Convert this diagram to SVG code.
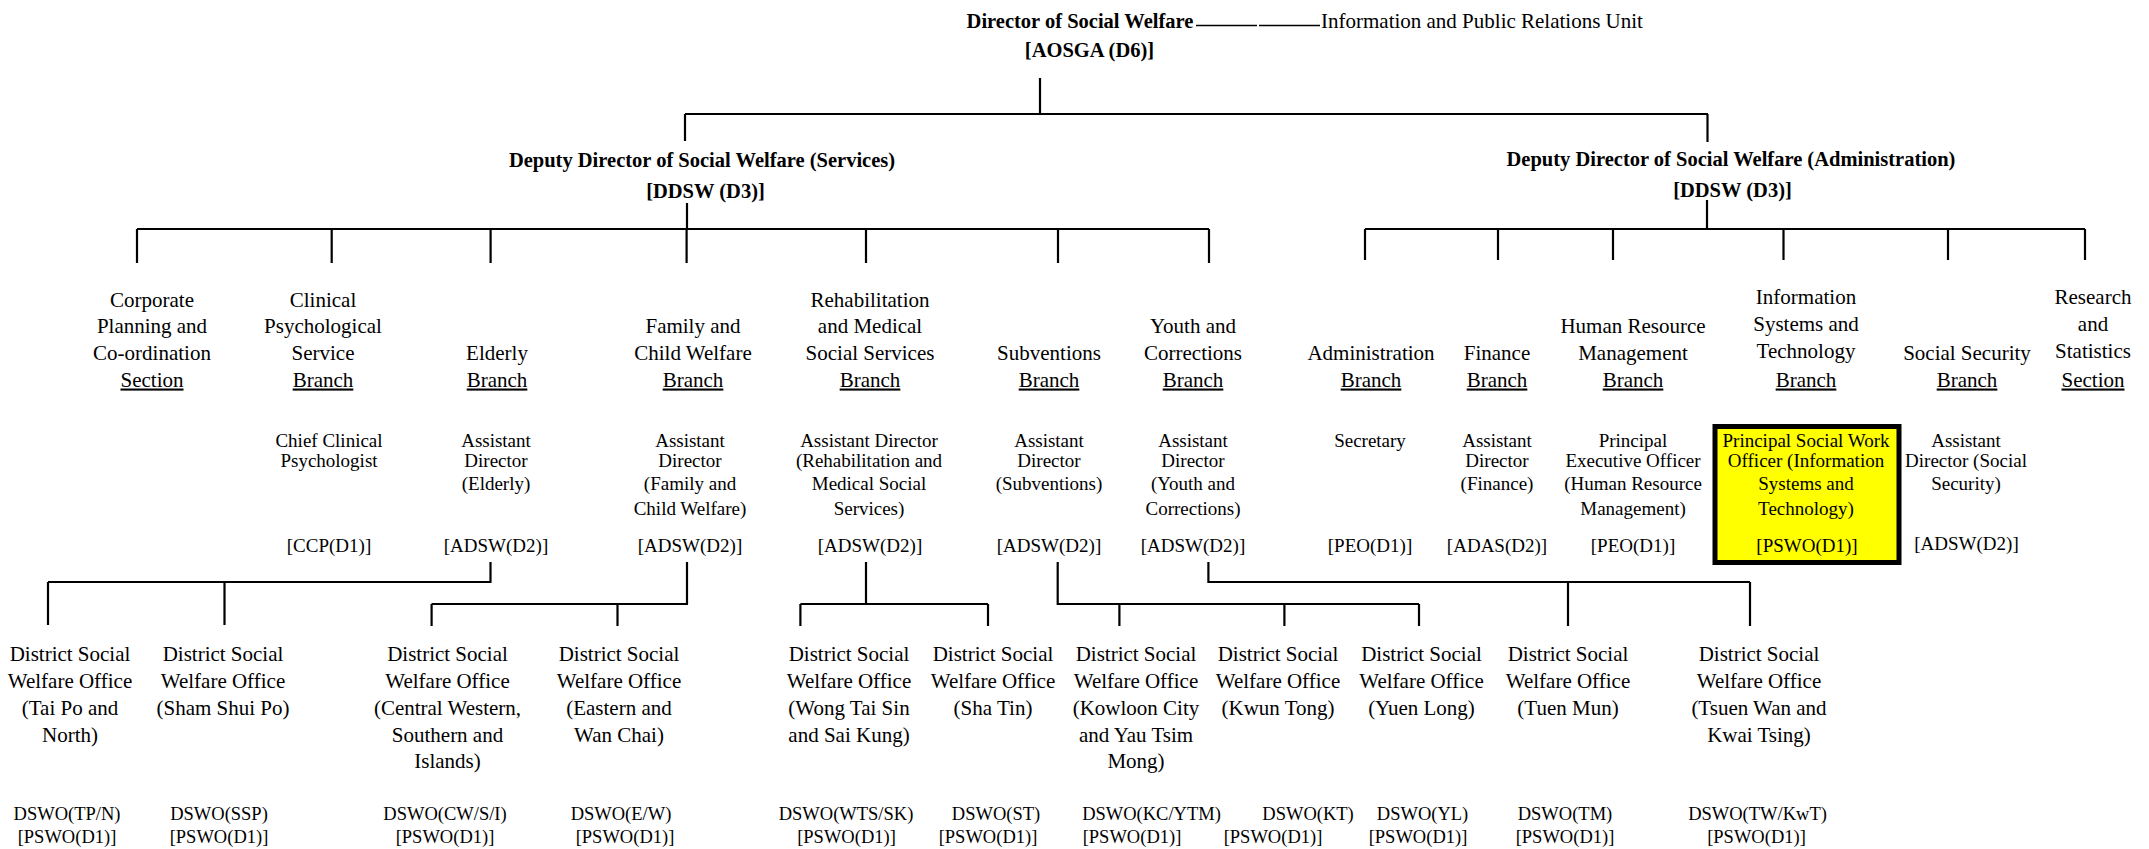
<svg xmlns="http://www.w3.org/2000/svg" width="2149" height="849" viewBox="0 0 2149 849">
<style>
text{font-family:"Liberation Serif","Times New Roman",serif;fill:#000;text-anchor:middle}
.b{font-weight:bold;font-size:20.5px}
.h{font-size:21px}
.p{font-size:19px}
.d{font-size:21px}
.c{font-size:18.5px}
.u{text-decoration:underline}
.ln{stroke:#000;stroke-width:2.2;fill:none}
.thin{stroke:#000;stroke-width:1.5;fill:none}
.hl{fill:#FFFF00;stroke:#000;stroke-width:5}
</style>
<rect width="2149" height="849" fill="#fff"/>
<g id="connectors">
<path class="thin" d="M1196,25.5H1257M1259,25.5H1320"/>
<path class="ln" d="M1040,78V114M685,114H1708M685,114V141M1707.5,114V142"/>
<path class="ln" d="M687,203V229M137,229H1209M137,229V263M331.7,229V263M490.6,229V263M686.6,229V263M866,229V263M1058,229V263M1209,229V263"/>
<path class="ln" d="M1707,200V229M1365,229H2085M1365,229V260M1498,229V260M1613,229V260M1783.5,229V260M1948,229V260M2085,229V260"/>
<path class="ln" d="M490.5,562V582M48,582H491.5M48,582V625M224.5,582V625"/>
<path class="ln" d="M687,562V604M431.6,604H688M431.6,604V626M617.5,604V626"/>
<path class="ln" d="M866,562V604M800.4,604H988M800.4,604V626M988,604V626"/>
<path class="ln" d="M1057.7,562V604H1419M1119.4,604V626M1284.4,604V626M1419,604V626"/>
<path class="ln" d="M1208.4,562V582H1750M1568,582V626M1750,582V626"/>
</g>
<g id="director">
<text class="b"><tspan x="1080" y="28">Director of Social Welfare</tspan><tspan x="1089.5" y="57">[AOSGA (D6)]</tspan></text>
</g>
<g id="ipru">
<text class="h" style="text-anchor:start" x="1321" y="28">Information and Public Relations Unit</text>
</g>
<g id="ddsw-services">
<text class="b"><tspan x="702" y="167">Deputy Director of Social Welfare (Services)</tspan><tspan x="705.5" y="197.5">[DDSW (D3)]</tspan></text>
</g>
<g id="ddsw-admin">
<text class="b"><tspan x="1731" y="166">Deputy Director of Social Welfare (Administration)</tspan><tspan x="1732.5" y="197">[DDSW (D3)]</tspan></text>
</g>
<g id="br-corporate">
<text class="h"><tspan x="152" y="306.5">Corporate</tspan><tspan x="152" y="333">Planning and</tspan><tspan x="152" y="360">Co-ordination</tspan><tspan x="152" y="386.5" class="u">Section</tspan></text>
</g>
<g id="br-clinical">
<text class="h"><tspan x="323" y="306.5">Clinical</tspan><tspan x="323" y="333">Psychological</tspan><tspan x="323" y="360">Service</tspan><tspan x="323" y="386.5" class="u">Branch</tspan></text>
<text class="p"><tspan x="329" y="446.5">Chief Clinical</tspan><tspan x="329" y="466.5">Psychologist</tspan><tspan x="329" y="551.5">[CCP(D1)]</tspan></text>
</g>
<g id="br-elderly">
<text class="h"><tspan x="497" y="360">Elderly</tspan><tspan x="497" y="386.5" class="u">Branch</tspan></text>
<text class="p"><tspan x="496" y="446.5">Assistant</tspan><tspan x="496" y="466.5">Director</tspan><tspan x="496" y="490">(Elderly)</tspan><tspan x="496" y="551.5">[ADSW(D2)]</tspan></text>
</g>
<g id="br-family">
<text class="h"><tspan x="693" y="333">Family and</tspan><tspan x="693" y="360">Child Welfare</tspan><tspan x="693" y="386.5" class="u">Branch</tspan></text>
<text class="p"><tspan x="690" y="446.5">Assistant</tspan><tspan x="690" y="466.5">Director</tspan><tspan x="690" y="490">(Family and</tspan><tspan x="690" y="514.5">Child Welfare)</tspan><tspan x="690" y="551.5">[ADSW(D2)]</tspan></text>
</g>
<g id="br-rehab">
<text class="h"><tspan x="870" y="306.5">Rehabilitation</tspan><tspan x="870" y="333">and Medical</tspan><tspan x="870" y="360">Social Services</tspan><tspan x="870" y="386.5" class="u">Branch</tspan></text>
<text class="p"><tspan x="869" y="446.5">Assistant Director</tspan><tspan x="869" y="466.5">(Rehabilitation and</tspan><tspan x="869" y="490">Medical Social</tspan><tspan x="869" y="514.5">Services)</tspan><tspan x="870" y="551.5">[ADSW(D2)]</tspan></text>
</g>
<g id="br-subventions">
<text class="h"><tspan x="1049" y="360">Subventions</tspan><tspan x="1049" y="386.5" class="u">Branch</tspan></text>
<text class="p"><tspan x="1049" y="446.5">Assistant</tspan><tspan x="1049" y="466.5">Director</tspan><tspan x="1049" y="490">(Subventions)</tspan><tspan x="1049" y="551.5">[ADSW(D2)]</tspan></text>
</g>
<g id="br-youth">
<text class="h"><tspan x="1193" y="333">Youth and</tspan><tspan x="1193" y="360">Corrections</tspan><tspan x="1193" y="386.5" class="u">Branch</tspan></text>
<text class="p"><tspan x="1193" y="446.5">Assistant</tspan><tspan x="1193" y="466.5">Director</tspan><tspan x="1193" y="490">(Youth and</tspan><tspan x="1193" y="514.5">Corrections)</tspan><tspan x="1193" y="551.5">[ADSW(D2)]</tspan></text>
</g>
<g id="br-admin">
<text class="h"><tspan x="1371" y="360">Administration</tspan><tspan x="1371" y="386.5" class="u">Branch</tspan></text>
<text class="p"><tspan x="1370" y="446.5">Secretary</tspan><tspan x="1370" y="551.5">[PEO(D1)]</tspan></text>
</g>
<g id="br-finance">
<text class="h"><tspan x="1497" y="360">Finance</tspan><tspan x="1497" y="386.5" class="u">Branch</tspan></text>
<text class="p"><tspan x="1497" y="446.5">Assistant</tspan><tspan x="1497" y="466.5">Director</tspan><tspan x="1497" y="490">(Finance)</tspan><tspan x="1497" y="551.5">[ADAS(D2)]</tspan></text>
</g>
<g id="br-hr">
<text class="h"><tspan x="1633" y="333">Human Resource</tspan><tspan x="1633" y="360">Management</tspan><tspan x="1633" y="386.5" class="u">Branch</tspan></text>
<text class="p"><tspan x="1633" y="446.5">Principal</tspan><tspan x="1633" y="466.5">Executive Officer</tspan><tspan x="1633" y="490">(Human Resource</tspan><tspan x="1633" y="514.5">Management)</tspan><tspan x="1633" y="551.5">[PEO(D1)]</tspan></text>
</g>
<g id="br-ist">
<text class="h"><tspan x="1806" y="304">Information</tspan><tspan x="1806" y="331">Systems and</tspan><tspan x="1806" y="358">Technology</tspan><tspan x="1806" y="386.5" class="u">Branch</tspan></text>
</g>
<g id="pswo-ist">
<rect class="hl" x="1715" y="426.5" width="184" height="136"/>
<text class="p"><tspan x="1806" y="446.5">Principal Social Work</tspan><tspan x="1806" y="466.5">Officer (Information</tspan><tspan x="1806" y="490">Systems and</tspan><tspan x="1806" y="514.5">Technology)</tspan><tspan x="1807" y="551.5">[PSWO(D1)]</tspan></text>
</g>
<g id="br-ss">
<text class="h"><tspan x="1967" y="360">Social Security</tspan><tspan x="1967" y="386.5" class="u">Branch</tspan></text>
<text class="p"><tspan x="1966" y="446.5">Assistant</tspan><tspan x="1966" y="466.5">Director (Social</tspan><tspan x="1966" y="490">Security)</tspan><tspan x="1966.5" y="550">[ADSW(D2)]</tspan></text>
</g>
<g id="sec-research">
<text class="h"><tspan x="2093" y="304">Research</tspan><tspan x="2093" y="331">and</tspan><tspan x="2093" y="358">Statistics</tspan><tspan x="2093" y="386.5" class="u">Section</tspan></text>
</g>
<g id="dswo-tpn">
<text class="d"><tspan x="70" y="660.5">District Social</tspan><tspan x="70" y="687.5">Welfare Office</tspan><tspan x="70" y="715">(Tai Po and</tspan><tspan x="70" y="741.5">North)</tspan></text>
<text class="c"><tspan x="67" y="820">DSWO(TP/N)</tspan><tspan x="67" y="843">[PSWO(D1)]</tspan></text>
</g>
<g id="dswo-ssp">
<text class="d"><tspan x="223" y="660.5">District Social</tspan><tspan x="223" y="687.5">Welfare Office</tspan><tspan x="223" y="715">(Sham Shui Po)</tspan></text>
<text class="c"><tspan x="219" y="820">DSWO(SSP)</tspan><tspan x="219" y="843">[PSWO(D1)]</tspan></text>
</g>
<g id="dswo-cwsi">
<text class="d"><tspan x="447.5" y="660.5">District Social</tspan><tspan x="447.5" y="687.5">Welfare Office</tspan><tspan x="447.5" y="715">(Central Western,</tspan><tspan x="447.5" y="741.5">Southern and</tspan><tspan x="447.5" y="768">Islands)</tspan></text>
<text class="c"><tspan x="445" y="820">DSWO(CW/S/I)</tspan><tspan x="445" y="843">[PSWO(D1)]</tspan></text>
</g>
<g id="dswo-ew">
<text class="d"><tspan x="619" y="660.5">District Social</tspan><tspan x="619" y="687.5">Welfare Office</tspan><tspan x="619" y="715">(Eastern and</tspan><tspan x="619" y="741.5">Wan Chai)</tspan></text>
<text class="c"><tspan x="621" y="820">DSWO(E/W)</tspan><tspan x="625" y="843">[PSWO(D1)]</tspan></text>
</g>
<g id="dswo-wtssk">
<text class="d"><tspan x="849" y="660.5">District Social</tspan><tspan x="849" y="687.5">Welfare Office</tspan><tspan x="849" y="715">(Wong Tai Sin</tspan><tspan x="849" y="741.5">and Sai Kung)</tspan></text>
<text class="c"><tspan x="846" y="820">DSWO(WTS/SK)</tspan><tspan x="846.5" y="843">[PSWO(D1)]</tspan></text>
</g>
<g id="dswo-st">
<text class="d"><tspan x="993" y="660.5">District Social</tspan><tspan x="993" y="687.5">Welfare Office</tspan><tspan x="993" y="715">(Sha Tin)</tspan></text>
<text class="c"><tspan x="996" y="820">DSWO(ST)</tspan><tspan x="988" y="843">[PSWO(D1)]</tspan></text>
</g>
<g id="dswo-kcytm">
<text class="d"><tspan x="1136" y="660.5">District Social</tspan><tspan x="1136" y="687.5">Welfare Office</tspan><tspan x="1136" y="715">(Kowloon City</tspan><tspan x="1136" y="741.5">and Yau Tsim</tspan><tspan x="1136" y="768">Mong)</tspan></text>
<text class="c"><tspan x="1151.5" y="820">DSWO(KC/YTM)</tspan><tspan x="1132" y="843">[PSWO(D1)]</tspan></text>
</g>
<g id="dswo-kt">
<text class="d"><tspan x="1278" y="660.5">District Social</tspan><tspan x="1278" y="687.5">Welfare Office</tspan><tspan x="1278" y="715">(Kwun Tong)</tspan></text>
<text class="c"><tspan x="1308" y="820">DSWO(KT)</tspan><tspan x="1273" y="843">[PSWO(D1)]</tspan></text>
</g>
<g id="dswo-yl">
<text class="d"><tspan x="1421.5" y="660.5">District Social</tspan><tspan x="1421.5" y="687.5">Welfare Office</tspan><tspan x="1421.5" y="715">(Yuen Long)</tspan></text>
<text class="c"><tspan x="1422.5" y="820">DSWO(YL)</tspan><tspan x="1418" y="843">[PSWO(D1)]</tspan></text>
</g>
<g id="dswo-tm">
<text class="d"><tspan x="1568" y="660.5">District Social</tspan><tspan x="1568" y="687.5">Welfare Office</tspan><tspan x="1568" y="715">(Tuen Mun)</tspan></text>
<text class="c"><tspan x="1565" y="820">DSWO(TM)</tspan><tspan x="1565" y="843">[PSWO(D1)]</tspan></text>
</g>
<g id="dswo-twkwt">
<text class="d"><tspan x="1759" y="660.5">District Social</tspan><tspan x="1759" y="687.5">Welfare Office</tspan><tspan x="1759" y="715">(Tsuen Wan and</tspan><tspan x="1759" y="741.5">Kwai Tsing)</tspan></text>
<text class="c"><tspan x="1757.5" y="820">DSWO(TW/KwT)</tspan><tspan x="1756.5" y="843">[PSWO(D1)]</tspan></text>
</g>
</svg>
